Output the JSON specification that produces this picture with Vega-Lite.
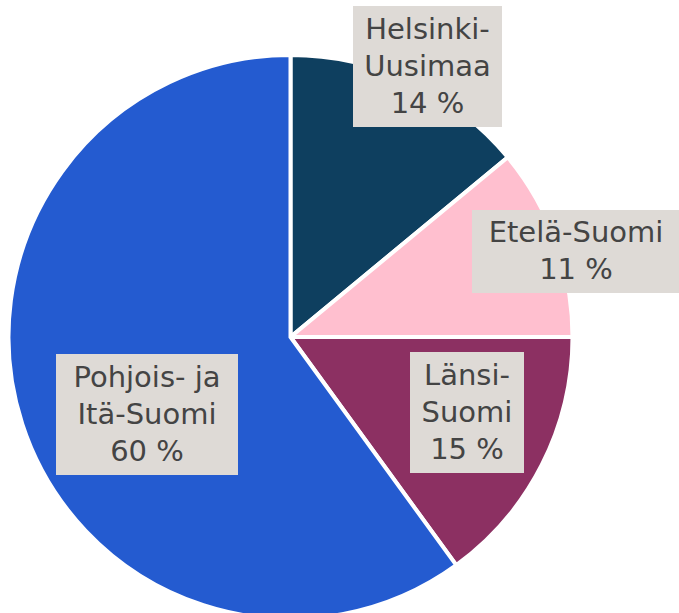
{
  "$schema": "https://vega.github.io/schema/vega-lite/v6.json",
  "width": 579,
  "height": 674,
  "padding": 0,
  "autosize": {"type": "pad"},
  "background": "white",
  "view": {"stroke": null},
  "config": {"text": {"font": "DejaVu Sans", "fontSize": 29, "lineHeight": 37, "color": "#444444", "lineBreak": "\n"}},
  "data": {"values": [
    {"region": "Helsinki-Uusimaa", "value": 14, "label": "Helsinki-\nUusimaa\n14 %"},
    {"region": "Etelä-Suomi", "value": 11, "label": "Etelä-Suomi\n11 %"},
    {"region": "Länsi-Suomi", "value": 15, "label": "Länsi-\nSuomi\n15 %"},
    {"region": "Pohjois- ja Itä-Suomi", "value": 60, "label": "Pohjois- ja\nItä-Suomi\n60 %"}
  ]},
  "transform": [{"window": [{"op": "row_number", "as": "idx"}]}],
  "layer": [
    {
      "mark": {"type": "arc", "radius": 282, "stroke": "white", "strokeWidth": 4},
      "encoding": {
        "theta": {"field": "value", "type": "quantitative", "stack": true},
        "order": {"field": "idx", "type": "quantitative"},
        "color": {"field": "region", "type": "nominal", "legend": null,
          "scale": {"domain": ["Helsinki-Uusimaa", "Etelä-Suomi", "Länsi-Suomi", "Pohjois- ja Itä-Suomi"],
                    "range": ["#0e3f5f", "#ffbfcf", "#8c3062", "#245bd0"]}}
      }
    },
    {
      "mark": {"type": "point", "filled": true, "size": 4, "color": "#dedad6", "opacity": 1, "strokeWidth": 0},
      "encoding": {
        "shape": {"field": "region", "type": "nominal", "legend": null,
          "scale": {"domain": ["Helsinki-Uusimaa", "Etelä-Suomi", "Länsi-Suomi", "Pohjois- ja Itä-Suomi"],
                    "range": ["M62.5,-331H211.5V-210H62.5Z", "M181.5,-127H389.5V-44H181.5Z", "M119.5,15H233.5V136H119.5Z", "M-234.5,17H-52.5V138H-234.5Z"]}}
      }
    },
    {
      "transform": [{"filter": "datum.region === 'Helsinki-Uusimaa'"}],
      "mark": {"type": "text", "dx": 137, "dy": -307.5},
      "encoding": {"text": {"field": "label", "type": "nominal"}}
    },
    {
      "transform": [{"filter": "datum.region === 'Etelä-Suomi'"}],
      "mark": {"type": "text", "dx": 285.5, "dy": -104},
      "encoding": {"text": {"field": "label", "type": "nominal"}}
    },
    {
      "transform": [{"filter": "datum.region === 'Länsi-Suomi'"}],
      "mark": {"type": "text", "dx": 176.5, "dy": 38.5},
      "encoding": {"text": {"field": "label", "type": "nominal"}}
    },
    {
      "transform": [{"filter": "datum.region === 'Pohjois- ja Itä-Suomi'"}],
      "mark": {"type": "text", "dx": -143.5, "dy": 40.5},
      "encoding": {"text": {"field": "label", "type": "nominal"}}
    }
  ]
}
